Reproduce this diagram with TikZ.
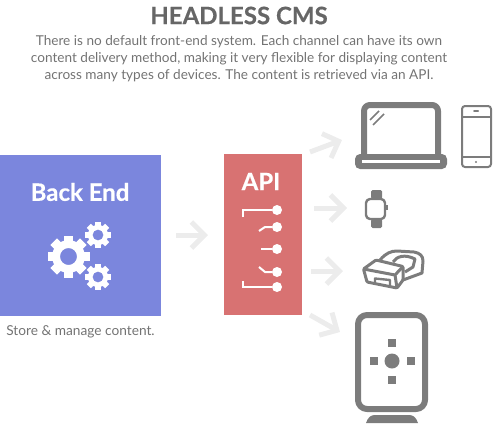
\documentclass[tikz,border=0pt]{standalone}
\usepackage{fontspec}
\setmainfont{Lato}[BoldFeatures={FakeBold=0.5}]
\usepackage{tikz}
\usetikzlibrary{arrows.meta,calc}
\definecolor{backblue}{HTML}{7B86DD}
\definecolor{apired}{HTML}{D87272}
\definecolor{icongrey}{HTML}{7C7C7C}
\definecolor{arrowgrey}{HTML}{ECECEC}
\tikzset{
  flow/.style={draw=arrowgrey, line width=5pt, -{Straight Barb[length=13pt,width=26pt,line width=5pt]}},
  icon/.style={draw=icongrey, line width=#1, line join=round},
  icon/.default=3pt,
  trace/.style={draw=white, line width=2pt},
  pin/.style={fill=white, circle, inner sep=0pt, minimum size=10pt},
  panel/.style={inner sep=0pt, anchor=north west},
}
\newcommand{\gear}[3]{% centre, outer radius, hole radius
  \foreach \a in {0,45,...,315} {\fill[white, shift={#1}, rotate=\a] (-#2*0.22,#2*0.7) rectangle (#2*0.22,#2);}
  \fill[white, even odd rule] #1 circle (#2*0.78) #1 circle (#3);
}
\begin{document}
\begin{tikzpicture}[x=1pt,y=-1pt]
    \useasboundingbox (0,0) rectangle (502,426);
    % text
    \node[text=black!60, font=\fontsize{24}{24}\selectfont\bfseries] (title) at (239,15.5) {HEADLESS CMS};
    \node[text=black!55, font=\fontsize{13.6}{17}\selectfont, align=center] (intro) at (239,59) {There is no default front-end system. Each channel can have its own\\content delivery method, making it very flexible for displaying content\\across many types of devices. The content is retrieved via an API.};
    \node[text=black!55, font=\fontsize{13.7}{17}\selectfont] (store) at (80.5,332) {Store \& manage content.};
    % panels
    \node[panel, fill=backblue, minimum width=161pt, minimum height=161pt] (backend) at (0,155) {};
    \node[panel, fill=apired, minimum width=78pt, minimum height=161pt] (api) at (224,154) {};
    \node[text=white, font=\fontsize{24}{24}\selectfont\bfseries] (backlabel) at (80,192) {Back End};
    \node[text=white, font=\fontsize{24}{24}\selectfont\bfseries] (apilabel) at (261,181.5) {API};
    % gears
    \gear{(68.5,256.5)}{21}{8.5}
    \gear{(98,235)}{13}{5.5}
    \gear{(98,277)}{13}{5.5}
    % api traces
    \foreach \n/\y in {a/210,b/227,c/249,d/272,e/287} {\node[pin] (pin\n) at (277,\y) {};}
    \coordinate (ta) at (243,217); \coordinate (tb) at (259,231); \coordinate (tc) at (261,249);
    \coordinate (td) at (259,267); \coordinate (te) at (243,281);
    \draw[trace] (ta) |- (pina);
    \draw[trace] (tb) -- (265,227) -- (pinb);
    \draw[trace] (tc) -- (pinc);
    \draw[trace] (td) -- (265,272) -- (pind);
    \draw[trace] (te) |- (pine);
    % arrows
    \coordinate (s0) at (176,235); \coordinate (e0) at (208,235);
    \coordinate (s1) at (310,152); \coordinate (e1) at (342,140);
    \coordinate (s2) at (314,208); \coordinate (e2) at (347,208);
    \coordinate (s3) at (311,271); \coordinate (e3) at (343,271);
    \coordinate (s4) at (310,315); \coordinate (e4) at (340,332);
    \foreach \i in {0,...,4} {\draw[flow] (s\i) -- (e\i);}
    % laptop
    \draw[icon=6pt, rounded corners=6pt] (364,155) -- (364,105) -- (438,105) -- (438,155);
    \fill[icongrey, rounded corners=5pt] (355,154) -- (447,154) -- (447,169) -- (355,169) -- cycle;
    \fill[white] (362,160) rectangle (440,163);
    \draw[icon=1.5pt] (370,120) -- (379,111) (373,125) -- (384,114);
    % phone
    \draw[icon=2pt, rounded corners=3pt] (462,106) rectangle (491,167);
    \draw[icon=2pt] (462,117) -- (491,117) (462,157) -- (491,157);
    \draw[icon=2pt, line cap=round] (474,111) -- (478,111);
    \fill[icongrey] (476,162) circle (1.2pt);
    % watch
    \fill[icongrey, rounded corners=1.5pt] (371,190) rectangle (382,199) (371,219) rectangle (382,228);
    \draw[icon=2.4pt, rounded corners=4pt] (366,199) rectangle (385,219);
    \fill[icongrey] (386,205) rectangle (388,210);
    % headset
    \draw[icon=3pt] (380,260) .. controls (386,253) and (391,251) .. (397,251) -- (414,252) .. controls (420,253) and (423,256) .. (423,261) -- (422,273) -- (403,280);
    \draw[icon=3pt, rounded corners=1pt] (363.5,269) -- (376,260) -- (403,266.5) -- (403,280) -- (397,288) -- (367,282) -- cycle;
    \draw[icon=3pt] (363.5,269) -- (395,275) -- (403,266.5) (395,275) -- (397,288);
    \draw[icon=2.4pt] (375,284) -- (375,278.5) -- (390,280) -- (390,286.5);
    \draw[icon=3pt] (393,262) .. controls (397,256) and (405,254) .. (415,259) -- (413,267) -- (405,272);
    % signage device
    \draw[icon=6pt, rounded corners=9pt] (358,315) rectangle (425,409);
    \fill[icongrey] (366,423) .. controls (368,417) and (371,415) .. (375,415) -- (409,415) .. controls (413,415) and (416,417) .. (418,423) -- cycle;
    \fill[icongrey] (392,361) circle (7.5pt);
    \foreach \x/\y in {392/343,392/380,373.5/361,410.5/361} {\fill[icongrey] (\x-4,\y-4) rectangle (\x+4,\y+4);}
\end{tikzpicture}
\end{document}
